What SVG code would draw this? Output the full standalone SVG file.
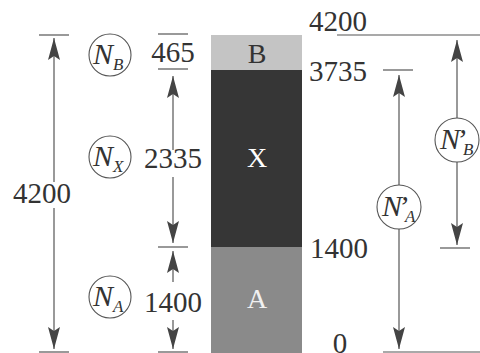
<svg xmlns="http://www.w3.org/2000/svg" width="480" height="353" viewBox="0 0 480 353">
<style>
.num{font-family:"Liberation Serif","Times New Roman",serif;font-size:29px;fill:#333}
.lab{font-family:"Liberation Serif","Times New Roman",serif;font-size:28px}
.n{font-family:"Liberation Serif","Times New Roman",serif;font-style:italic;font-size:30px;fill:#333}
.sub{font-size:17px}
.ring{fill:#fff;stroke:#555;stroke-width:1.1}
.ln{stroke:#555;stroke-width:1.2;fill:none}
.arr{marker-end:url(#ah)}
</style>
<defs>
<marker id="ah" markerUnits="userSpaceOnUse" markerWidth="24" markerHeight="14" refX="22" refY="6" orient="auto" viewBox="0 0 24 12">
<path d="M0,0 L22,6 L0,12 L4,6 z" fill="#444"/>
</marker>
</defs>
<rect width="480" height="353" fill="#fff"/>
<g id="bar">
<rect x="211" y="35" width="91" height="35" fill="#c4c4c4"/>
<rect x="211" y="70" width="91" height="177" fill="#363636"/>
<rect x="211" y="247" width="91" height="106" fill="#8a8a8a"/>
<text class="lab" x="257" y="63" text-anchor="middle" fill="#333">B</text>
<text class="lab" x="257" y="167" text-anchor="middle" fill="#fff">X</text>
<text class="lab" x="257" y="308" text-anchor="middle" fill="#f0f0f0">A</text>
</g>
<g id="connectors">
<line class="ln" x1="39" y1="35" x2="69" y2="35"/>
<line class="ln" x1="39" y1="352" x2="69" y2="352"/>
<line class="ln arr" x1="54" y1="182" x2="54" y2="38"/>
<line class="ln arr" x1="54" y1="208" x2="54" y2="349"/>
<line class="ln" x1="158" y1="34" x2="188" y2="34"/>
<line class="ln" x1="158" y1="69" x2="188" y2="69"/>
<line class="ln" x1="158" y1="247" x2="188" y2="247"/>
<line class="ln" x1="158" y1="352" x2="188" y2="352"/>
<line class="ln arr" x1="173" y1="150" x2="173" y2="76"/>
<line class="ln arr" x1="173" y1="177" x2="173" y2="243"/>
<line class="ln arr" x1="173" y1="282" x2="173" y2="251"/>
<line class="ln arr" x1="173" y1="320" x2="173" y2="349"/>
<line class="ln" x1="337" y1="35" x2="480" y2="35"/>
<line class="ln" x1="383" y1="70" x2="413" y2="70"/>
<line class="ln" x1="440" y1="248" x2="470" y2="248"/>
<line class="ln" x1="383" y1="352" x2="480" y2="352"/>
<line class="ln arr" x1="399" y1="185" x2="399" y2="75"/>
<line class="ln arr" x1="399" y1="229" x2="399" y2="349"/>
<line class="ln arr" x1="457" y1="118" x2="457" y2="40"/>
<line class="ln arr" x1="457" y1="162" x2="457" y2="245"/>
</g>
<g id="values">
<text class="num" x="42" y="203" text-anchor="middle">4200</text>
<text class="num" x="173" y="62" text-anchor="middle">465</text>
<text class="num" x="173" y="168" text-anchor="middle">2335</text>
<text class="num" x="173" y="312" text-anchor="middle">1400</text>
<text class="num" x="338" y="31" text-anchor="middle">4200</text>
<text class="num" x="338" y="81" text-anchor="middle">3735</text>
<text class="num" x="339" y="258" text-anchor="middle">1400</text>
<text class="num" x="340" y="353" text-anchor="middle">0</text>
</g>
<g id="NB">
<circle class="ring" cx="110" cy="55" r="21"/>
<text class="n" x="93" y="64">N<tspan class="sub" dy="6">B</tspan></text>
</g>
<g id="NX">
<circle class="ring" cx="110" cy="157" r="21"/>
<text class="n" x="93" y="166">N<tspan class="sub" dy="6">X</tspan></text>
</g>
<g id="NA">
<circle class="ring" cx="110" cy="297" r="21"/>
<text class="n" x="93" y="306">N<tspan class="sub" dy="6">A</tspan></text>
</g>
<g id="NAp">
<circle class="ring" cx="399" cy="207" r="22"/>
<text class="n" x="382" y="216">N<tspan dx="-4">’</tspan><tspan class="sub" dx="-3" dy="6">A</tspan></text>
</g>
<g id="NBp">
<circle class="ring" cx="457" cy="140" r="22"/>
<text class="n" x="440" y="149">N<tspan dx="-4">’</tspan><tspan class="sub" dx="-3" dy="6">B</tspan></text>
</g>
</svg>
